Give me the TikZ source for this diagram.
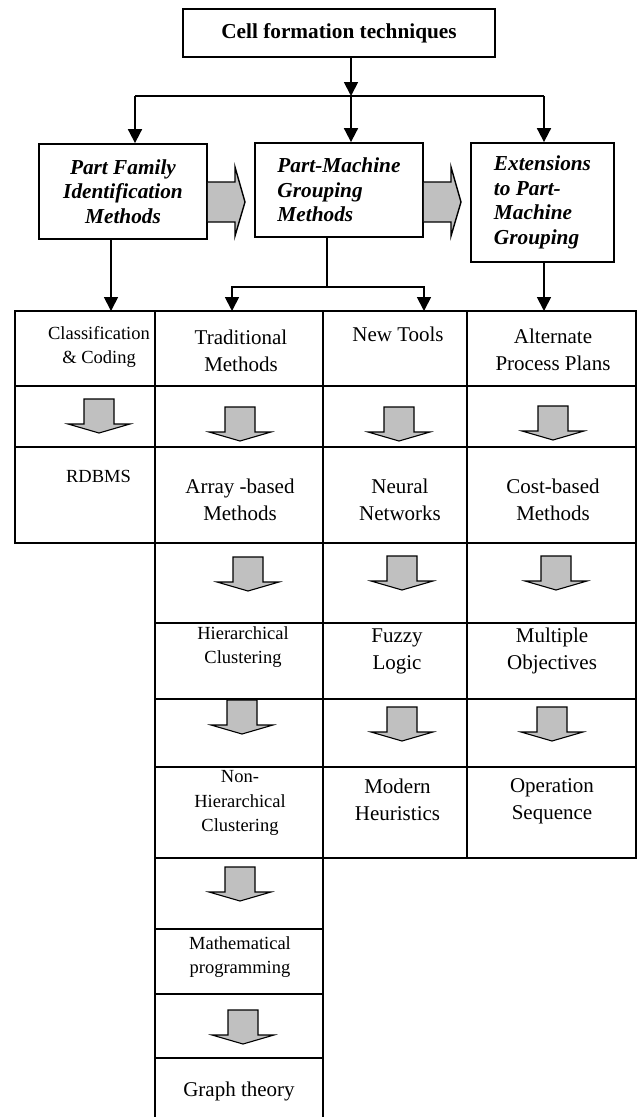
\documentclass[tikz,border=0pt]{standalone}
\usepackage{fontspec}
\setmainfont{Liberation Serif}
\usetikzlibrary{arrows.meta,calc,positioning}
\definecolor{blockgray}{RGB}{192,192,192}
\tikzset{
  box/.style={draw,line width=1.8pt,inner sep=0pt,align=center},
  title/.style={font=\fontsize{21.3}{24.5}\selectfont\bfseries\itshape},
  big/.style={font=\fontsize{21}{27}\selectfont,align=center,inner sep=0pt},
  small/.style={font=\fontsize{18.5}{24.8}\selectfont,align=center,inner sep=0pt},
  wire/.style={line width=1.8pt},
  arr/.style={line width=1.8pt,-{Triangle[length=14pt,width=14pt]}},
  gridline/.style={line width=1.8pt,line cap=rect},
  blockarrow/.style={fill=blockgray,draw=black,line width=1.1pt}
}
\newcommand{\blockdown}[2]{% gray down arrow: centre x, top y
  \draw[blockarrow] (#1-15,#2) -- (#1+15,#2) -- (#1+15,#2+25) -- (#1+31,#2+25) -- (#1,#2+34) -- (#1-31,#2+25) -- (#1-15,#2+25) -- cycle;}
\begin{document}
\begin{tikzpicture}[x=1pt,y=-1pt]
\fill[white] (0,0) rectangle (639,1117); % background
\useasboundingbox (0,0) rectangle (639,1117);
% top boxes
\node[box,minimum width=312pt,minimum height=48pt,font=\fontsize{21.3}{24}\selectfont\bfseries] (top) at (339,33) {Cell formation techniques};
\node[box,title,minimum width=168pt,minimum height=95pt] (pfi) at (123,191.5) {Part Family\\Identification\\Methods};
\node[box,title,align=left,minimum width=168pt,minimum height=94pt] (pmg) at (339,190) {Part-Machine\\Grouping\\Methods};
\node[box,title,align=left,minimum width=143pt,minimum height=119pt] (ext) at (542.5,202.5) {Extensions\\to Part-\\Machine\\Grouping};
% connector ends
\coordinate (busL) at (135,96);
\coordinate (busM) at (351,96);
\coordinate (busR) at (544,96);
\coordinate (split) at (327,287);
\coordinate (clsTop) at (111,311);
\coordinate (tradTop) at (232,311);
\coordinate (toolTop) at (424,311);
\coordinate (altTop) at (544,311);
% wiring
\draw[arr] (busM |- top.south) -- (busM); % into bus
\draw[wire] (busL) -- (busR); % bus
\draw[arr] (busL) -- (busL |- pfi.north);
\draw[arr] (busM) -- (busM |- pmg.north);
\draw[arr] (busR) -- (busR |- ext.north);
\draw[arr] (clsTop |- pfi.south) -- (clsTop);
\draw[wire] (split |- pmg.south) -- (split);
\draw[arr] (split) -| (tradTop);
\draw[arr] (split) -| (toolTop);
\draw[arr] (altTop |- ext.south) -- (altTop);
% gray arrows between top boxes
\draw[blockarrow,line width=1.4pt] (pfi.east |- 0,182) -- (235,182) -- (235,167) -- (245,202) -- (235,236) -- (235,222) -- (pfi.east |- 0,222);
\draw[blockarrow,line width=1.4pt] (pmg.east |- 0,182) -- (451,182) -- (451,167) -- (461,202) -- (451,236) -- (451,222) -- (pmg.east |- 0,222);
% grid
\draw[gridline] (15,311) -- (636,311) (15,386) -- (636,386) (15,447) -- (636,447) (15,543) -- (636,543);
\draw[gridline] (155,623) -- (636,623) (155,699) -- (636,699) (155,767) -- (636,767) (155,858) -- (636,858);
\draw[gridline] (155,929) -- (323,929) (155,994) -- (323,994) (155,1058) -- (323,1058);
\draw[gridline] (15,311) -- (15,543) (467,311) -- (467,858) (636,311) -- (636,858);
\draw[line width=1.8pt] (155,311) -- (155,1117) (323,311) -- (323,1117);
% cell texts
\node[small] (cls) at (99,347) {Classification\\\& Coding};
\node[small] (rdb) at (98.5,476) {RDBMS};
\node[big] (trad) at (241,351) {Traditional\\Methods};
\node[big] (tools) at (398,334) {New Tools};
\node[big] (alt) at (553,350) {Alternate\\Process Plans};
\node[big] (array) at (240,500) {Array -based\\Methods};
\node[big] (neur) at (400,500) {Neural\\Networks};
\node[big] (cost) at (553,500) {Cost-based\\Methods};
\node[small] (hier) at (243,647) {Hierarchical\\Clustering};
\node[big] (fuzzy) at (397,651) {Fuzzy\\Logic};
\node[big] (multi) at (552,651) {Multiple\\Objectives};
\node[small] (nonh) at (240,803) {Non-\\Hierarchical\\Clustering};
\node[big] (heur) at (397.5,800) {Modern\\Heuristics};
\node[big] (oper) at (552,801) {Operation\\Sequence};
\node[small] (math) at (240,957) {Mathematical\\programming};
\node[big] (graph) at (239,1091) {Graph theory};
% gray arrows in cells
\blockdown{99}{399} \blockdown{240}{407} \blockdown{399}{407} \blockdown{553}{406}
\blockdown{248}{557} \blockdown{402}{556} \blockdown{556}{556}
\blockdown{242}{700} \blockdown{402}{707} \blockdown{552}{707}
\blockdown{240}{867}
\blockdown{243}{1010}
\end{tikzpicture}
\end{document}
